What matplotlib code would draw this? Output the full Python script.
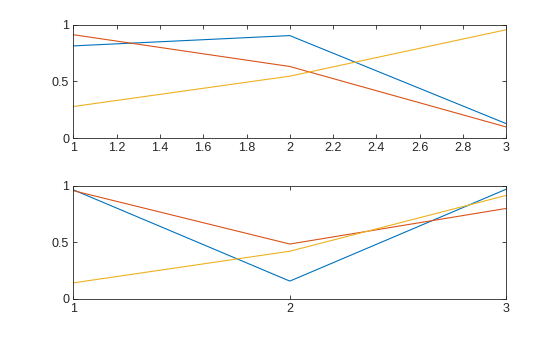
import matplotlib
matplotlib.use('Agg')
import matplotlib.pyplot as plt

plt.rcParams['font.family'] = ['Liberation Sans', 'DejaVu Sans']

x = [1, 2, 3]

# top panel series
top_a = [0.8147, 0.9058, 0.1270]
top_b = [0.9134, 0.6324, 0.0975]
top_c = [0.2785, 0.5469, 0.9575]

# bottom panel series
bot_a = [0.9649, 0.1576, 0.9706]
bot_b = [0.9572, 0.4854, 0.8003]
bot_c = [0.1419, 0.4218, 0.9157]

colors = ['#0072BD', '#D95319', '#EDB120']
dark = '#262626'

fig = plt.figure(figsize=(5.6, 3.37), dpi=100)
ax1 = fig.add_axes([0.131, 0.5905, 0.773, 0.3355])
ax2 = fig.add_axes([0.131, 0.113, 0.773, 0.3355])

for ax, series in [(ax1, [top_a, top_b, top_c]), (ax2, [bot_a, bot_b, bot_c])]:
    for s, c in zip(series, colors):
        ax.plot(x, s, color=c, linewidth=0.8)
    ax.set_xlim(1, 3)
    ax.set_ylim(0, 1)
    ax.set_yticks([0, 0.5, 1])
    ax.set_yticklabels(['0', '0.5', '1'])
    ax.tick_params(direction='in', length=3, width=0.6, colors=dark,
                   labelsize=9, top=True, right=True, pad=3)
    for sp in ax.spines.values():
        sp.set_color(dark)
        sp.set_linewidth(0.6)

ax1.set_xticks([1, 1.2, 1.4, 1.6, 1.8, 2, 2.2, 2.4, 2.6, 2.8, 3])
ax1.set_xticklabels(['1', '1.2', '1.4', '1.6', '1.8', '2', '2.2', '2.4', '2.6', '2.8', '3'])
ax2.set_xticks([1, 2, 3])
ax2.set_xticklabels(['1', '2', '3'])

fig.savefig('out.png', dpi=100)
